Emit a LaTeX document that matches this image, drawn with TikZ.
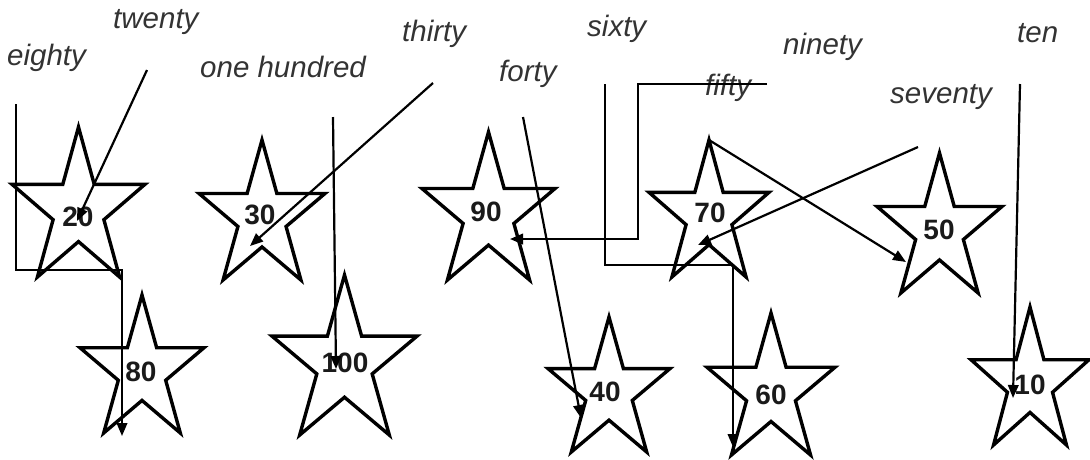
\documentclass[tikz,border=0pt]{standalone}
\usepackage{fontspec}
\setmainfont{Liberation Sans}
\usetikzlibrary{arrows.meta}
\definecolor{lblgray}{HTML}{333333}
\definecolor{numblack}{HTML}{1A1A1A}
\tikzset{
  starline/.style={draw=black,line width=3.4pt,line join=miter,fill=none},
  num/.style={inner sep=0pt,text=numblack,font=\fontsize{28}{32}\selectfont\bfseries},
  lbl/.style={inner sep=0pt,anchor=base west,text=lblgray,font=\fontsize{29.5}{34}\selectfont\itshape},
  conn/.style={draw=black,line width=2.2pt},
  arr/.style={conn,-{Triangle[length=13pt,width=10.5pt]}}
}
% star: cx, top, half width, height
\newcommand{\drawstarshape}[4]{%
  \begin{scope}[shift={(#1,#2)},xscale=#3,yscale=#4]
    \draw[starline] (0,0) -- (0.236,0.382) -- (1,0.382) -- (0.382,0.618) -- (0.618,1)
      -- (0,0.764) -- (-0.618,1) -- (-0.382,0.618) -- (-1,0.382) -- (-0.236,0.382) -- cycle;
  \end{scope}}
\begin{document}
\begin{tikzpicture}[x=1pt,y=-1pt]
\useasboundingbox[fill=white] (0,0) rectangle (1090,459);

% stars
\drawstarshape{78.5}{127}{66.5}{150}
\drawstarshape{262}{140}{63}{140}
\drawstarshape{344.5}{275}{72.5}{160}
\drawstarshape{142}{295}{62}{138}
\drawstarshape{488.5}{132}{66.5}{148}
\drawstarshape{709}{140}{60}{137}
\drawstarshape{609}{317}{61}{135}
\drawstarshape{771}{313}{64}{142}
\drawstarshape{939.5}{153}{62.5}{140}
\drawstarshape{1030}{307}{59}{138}

% numbers
\node[num] (n20) at (78,217) {20};
\node[num] (n30) at (260,215) {30};
\node[num] (n100) at (345,363) {100};
\node[num] (n80) at (141,372) {80};
\node[num] (n90) at (486,212) {90};
\node[num] (n70) at (710,213) {70};
\node[num] (n40) at (605,392) {40};
\node[num] (n60) at (771,395) {60};
\node[num] (n50) at (939,230) {50};
\node[num] (n10) at (1030,385) {10};

% labels
\node[lbl] (leighty) at (7,65) {eighty};
\node[lbl] (ltwenty) at (113,28) {twenty};
\node[lbl] (lhundred) at (200,77) {one hundred};
\node[lbl] (lthirty) at (402,41) {thirty};
\node[lbl] (lforty) at (499,81) {forty};
\node[lbl] (lsixty) at (587,36) {sixty};
\node[lbl] (lfifty) at (705,95) {fifty};
\node[lbl] (lninety) at (783,54) {ninety};
\node[lbl] (lten) at (1017,42) {ten};
\node[lbl] (lseventy) at (890,103) {seventy};

% connector end points
\coordinate (s80) at (16,104);   \coordinate (e80) at (122,436);
\coordinate (s20) at (147,70);   \coordinate (e20) at (77,221);
\coordinate (s100) at (333,117); \coordinate (e100) at (336,369);
\coordinate (s30) at (433,83);   \coordinate (e30) at (250,246);
\coordinate (s40) at (523,117);  \coordinate (e40) at (581,418);
\coordinate (s60) at (605,84);   \coordinate (e60) at (733,447);
\coordinate (s90) at (767,84);   \coordinate (e90) at (510,239);
\coordinate (s50) at (709,140);  \coordinate (e50) at (906,262);
\coordinate (s70) at (918,147);  \coordinate (e70) at (698,245);
\coordinate (s10) at (1020,84);  \coordinate (e10) at (1013,398);

% connectors
\draw[arr] (s80) -- (16,270) -- (122,270) -- (e80);
\draw[arr] (s20) -- (e20);
\draw[arr] (s100) -- (e100);
\draw[arr] (s30) -- (e30);
\draw[arr] (s40) -- (e40);
\draw[arr] (s60) -- (605,265) -- (733,265) -- (e60);
\draw[arr] (s90) -- (638,84) -- (638,239) -- (e90);
\draw[arr] (s50) -- (e50);
\draw[arr] (s70) -- (e70);
\draw[arr] (s10) -- (e10);
\end{tikzpicture}
\end{document}
